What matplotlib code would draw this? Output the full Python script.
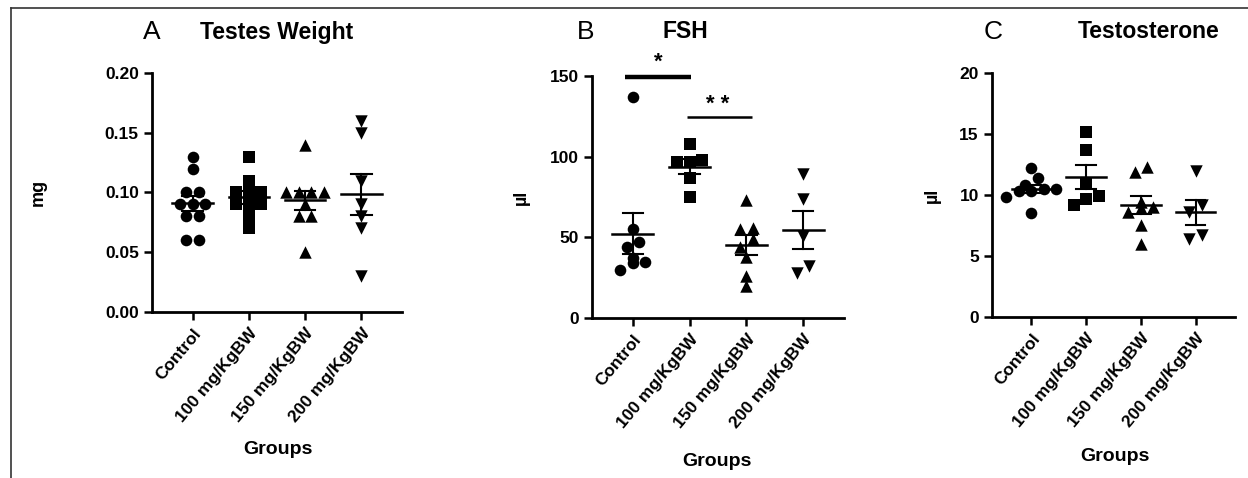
import numpy as np
import matplotlib
matplotlib.use("Agg")
import matplotlib.pyplot as plt
from matplotlib.lines import Line2D

plt.rcParams['font.family'] = ['Liberation Sans', 'DejaVu Sans']

groups = ["Control", "100 mg/KgBW", "150 mg/KgBW", "200 mg/KgBW"]
markers = ["o", "s", "^", "v"]

# Panel A: Testes weight (mg)
testes_control = [0.13, 0.12, 0.10, 0.10, 0.09, 0.09, 0.09, 0.08, 0.08, 0.06, 0.06]
testes_100 = [0.13, 0.11, 0.10, 0.10, 0.10, 0.09, 0.09, 0.09, 0.08, 0.07]
testes_150 = [0.14, 0.10, 0.10, 0.10, 0.10, 0.09, 0.08, 0.08, 0.05]
testes_200 = [0.16, 0.15, 0.11, 0.09, 0.08, 0.07, 0.03]

# Panel B: FSH
fsh_control = [137, 55, 47, 44, 37, 35, 34, 30]
fsh_100 = [108, 98, 97, 97, 87, 75]
fsh_150 = [73, 56, 55, 49, 44, 38, 26, 20]
fsh_200 = [89, 74, 51, 32, 28]

# Panel C: Testosterone
testo_control = [12.2, 11.4, 10.8, 10.5, 10.5, 10.3, 10.3, 9.8, 8.5]
testo_100 = [15.2, 13.7, 11.0, 9.9, 9.7, 9.2]
testo_150 = [12.3, 11.9, 9.4, 9.0, 8.9, 8.6, 7.5, 6.0]
testo_200 = [12.0, 9.2, 8.6, 6.7, 6.4]

W, H = 1248, 478
fig = plt.figure(figsize=(W / 100, H / 100), dpi=100)

# outer frame lines (top and left)
fig.add_artist(Line2D([11 / W, 1.0], [1 - 8 / H, 1 - 8 / H], color="#333333", lw=1.2))
fig.add_artist(Line2D([11 / W, 11 / W], [0, 1 - 8 / H], color="#333333", lw=1.2))


def make_ax(left, right, top, bottom):
    return fig.add_axes([left / W, 1 - bottom / H, (right - left) / W, (bottom - top) / H])


MS = 70
DIAM = 12.5  # px


def swarm_offsets(ax, vals):
    vals = np.asarray(vals, dtype=float)
    ypix = ax.transData.transform(np.column_stack([np.zeros_like(vals), vals]))[:, 1]
    order = np.argsort(ypix)
    rows = []
    cur = []
    start = None
    for i in order:
        if start is None or ypix[i] - start < 0.75 * DIAM:
            if start is None:
                start = ypix[i]
            cur.append(i)
        else:
            rows.append(cur)
            cur = [i]
            start = ypix[i]
    if cur:
        rows.append(cur)
    x0 = ax.transData.transform((0, 0))[0]
    x1 = ax.transData.transform((1, 0))[0]
    ppu = x1 - x0
    offs = np.zeros(len(vals))
    for r in rows:
        k = len(r)
        for j, i in enumerate(r):
            offs[i] = (j - (k - 1) / 2) * DIAM / ppu
    return offs


def panel(ax, data, ylim, yticks, fmt, ylabel):
    ax.set_xlim(-0.72, 3.72)
    ax.set_ylim(*ylim)
    for s in ["top", "right"]:
        ax.spines[s].set_visible(False)
    for s in ["left", "bottom"]:
        ax.spines[s].set_linewidth(2.0)
    ax.set_yticks(yticks)
    ax.set_yticklabels([fmt.format(v) for v in yticks], fontsize=12.5, fontweight="bold")
    ax.set_xticks(range(4))
    ax.set_xticklabels(groups, rotation=50, ha="right", rotation_mode="anchor",
                       fontsize=12.5, fontweight="bold")
    ax.tick_params(axis="both", width=1.8, length=6)
    ax.tick_params(axis="x", pad=4)
    for gi, vals in enumerate(data):
        offs = swarm_offsets(ax, vals)
        ax.scatter(gi + offs, vals, marker=markers[gi], s=MS if markers[gi] in "os" else 80,
                   color="black", linewidths=0, zorder=2, clip_on=False)
        v = np.asarray(vals, dtype=float)
        m = v.mean()
        sem = v.std(ddof=1) / np.sqrt(len(v))
        ax.plot([gi - 0.36, gi + 0.36], [m, m], color="black", lw=1.8, zorder=3)
        ax.plot([gi, gi], [m - sem, m + sem], color="black", lw=1.5, zorder=3)
        ax.plot([gi - 0.18, gi + 0.18], [m + sem, m + sem], color="black", lw=1.5, zorder=3)
        ax.plot([gi - 0.18, gi + 0.18], [m - sem, m - sem], color="black", lw=1.5, zorder=3)
    ax.set_ylabel(ylabel, fontsize=13, fontweight="bold")
    ax.set_xlabel("Groups", fontsize=14, fontweight="bold")


axA = make_ax(152, 402, 73, 312)
panel(axA, [testes_control, testes_100, testes_150, testes_200], (0, 0.20),
      [0, 0.05, 0.10, 0.15, 0.20], "{:.2f}", "mg")
axA.yaxis.set_label_coords(-0.42, 0.5)
axA.xaxis.set_label_coords(0.504, -0.540)

axB = make_ax(592, 844, 76, 318)
panel(axB, [fsh_control, fsh_100, fsh_150, fsh_200], (0, 150),
      [0, 50, 100, 150], "{:.0f}", "µl")
axB.yaxis.set_label_coords(-0.245, 0.5)
axB.xaxis.set_label_coords(0.496, -0.558)

axC = make_ax(992, 1235, 73, 317)
panel(axC, [testo_control, testo_100, testo_150, testo_200], (0, 20),
      [0, 5, 10, 15, 20], "{:.0f}", "µl")
axC.yaxis.set_label_coords(-0.21, 0.5)
axC.xaxis.set_label_coords(0.506, -0.537)

# significance bars in FSH
axB.plot([-0.14, 1.03], [149.5, 149.5], color="black", lw=3.2, clip_on=False, solid_capstyle="butt")
axB.text(0.44, 152, "*", ha="center", va="bottom", fontsize=16, fontweight="bold")
axB.plot([0.95, 2.1], [124.4, 124.4], color="black", lw=1.8, clip_on=False, solid_capstyle="butt")
axB.text(1.5, 126, "* *", ha="center", va="bottom", fontsize=16, fontweight="bold")

# titles
fig.text(143 / W, 1 - 32 / H, "A", fontsize=19, va="center", ha="left", fontweight="light")
fig.text(200 / W, 1 - 32 / H, "Testes Weight", fontsize=16.5, va="center", ha="left", fontweight="bold")
fig.text(577 / W, 1 - 32 / H, "B", fontsize=19, va="center", ha="left", fontweight="light")
fig.text(663 / W, 1 - 32 / H, "FSH", fontsize=16.5, va="center", ha="left", fontweight="bold")
fig.text(984 / W, 1 - 32 / H, "C", fontsize=19, va="center", ha="left", fontweight="light")
fig.text(1078 / W, 1 - 32 / H, "Testosterone", fontsize=16.5, va="center", ha="left", fontweight="bold")

fig.savefig("out.png", dpi=100)
